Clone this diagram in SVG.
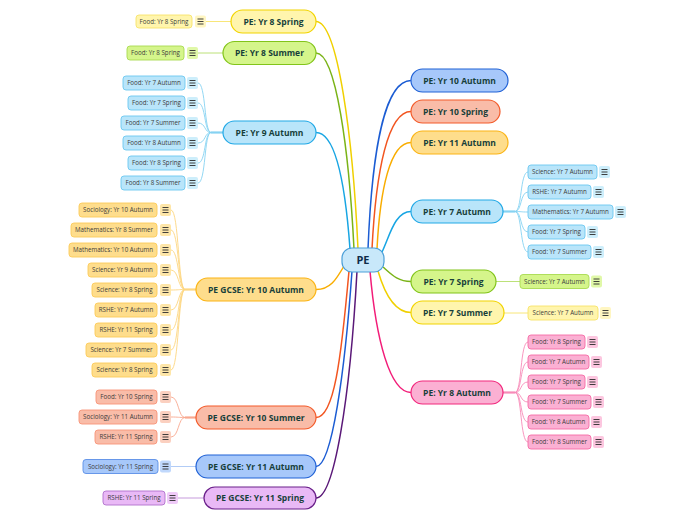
<svg xmlns="http://www.w3.org/2000/svg" xmlns:xlink="http://www.w3.org/1999/xlink" width="696" height="520" viewBox="0 0 696 520">
<style>
.t{font-family:'Open Sans','Liberation Sans',sans-serif;text-anchor:middle}
.mt{font-size:8.5px;font-weight:bold;fill:#173f3a}
.st{font-size:6.2px;fill:#3b3b3b}
.ct{font-size:11px;font-weight:bold;fill:#0f2c4a}
.m{stroke-width:1.2}
.s{stroke-width:0.9}
.c path,.c line{fill:none}
.mc{stroke-width:1.5}
.sc{stroke-width:0.9}
.jc{stroke-width:2.2}
.y .m{fill:#fff5ad;stroke:#f2d400}.y .s{fill:#fff5ad;stroke:#f7e36a}.y .i{fill:#fff6c2}
.g .m{fill:#d5f58b;stroke:#82c41a}.g .s{fill:#d5f58b;stroke:#a8da50}.g .i{fill:#e0f8a8}
.lb .m{fill:#b9e5fa;stroke:#22a9e6}.lb .s{fill:#b9e5fa;stroke:#6cc7f0}.lb .i{fill:#cdeefb}
.o .m{fill:#fedd8c;stroke:#fbb415}.o .s{fill:#fedd8c;stroke:#fccb5a}.o .i{fill:#fee6a8}
.sa .m{fill:#f9bca8;stroke:#f35b2a}.sa .s{fill:#f9bca8;stroke:#f79478}.sa .i{fill:#fbd0c0}
.b .m{fill:#a7c8fa;stroke:#2162d6}.b .s{fill:#a7c8fa;stroke:#5a8ee6}.b .i{fill:#c0d8fc}
.p .m{fill:#fbb0d3;stroke:#f2287d}.p .s{fill:#fbb0d3;stroke:#f56ba5}.p .i{fill:#fcc6df}
.pu .m{fill:#e9b9f6;stroke:#6a208a}.pu .s{fill:#e9b9f6;stroke:#b070cc}.pu .i{fill:#efcaf8}
.ky{stroke:#f0d000}.kg{stroke:#7ab317}.klb{stroke:#17a5e3}.ko{stroke:#f9ad00}.ksa{stroke:#f25520}.kb{stroke:#1b5cd3}.kp{stroke:#f21c78}.kpu{stroke:#5a1878}
.ly{stroke:#f7e36a}.lg{stroke:#b4de6a}.llb{stroke:#86d2f2}.lo{stroke:#fdd680}.lsa{stroke:#f8a890}.lb2{stroke:#a9c6f5}.lp{stroke:#f78ab8}.lpu{stroke:#c090d8}
</style>
<defs>
<g id="ico"><rect width="11" height="12" rx="2"/><path d="M2.5,3.5h6M2.5,6h6M2.5,8.5h6" fill="none" stroke="#2b2b2b" stroke-width="0.9"/></g>
</defs>
<rect width="696" height="520" fill="#ffffff"/>

<g id="connectors" class="c">
<!-- main -->
<path class="mc klb" d="M350,249 C345,180 335,132.5 316,132.5"/>
<path class="mc kg" d="M354,249 C349,150 336,53 316,53"/>
<path class="mc ky" d="M358,249 C353,140 338,21.5 316,21.5"/>
<path class="mc kb" d="M368,249 C372,150 385,80.5 411,80.5"/>
<path class="mc ksa" d="M372,249 C376,170 388,111.5 411,111.5"/>
<path class="mc ko" d="M377,249 C380,190 390,142.5 411,142.5"/>
<path class="mc klb" d="M382,252 C390,235 395,211.5 411,211.5"/>
<path class="mc kg" d="M383,267 C392,275 398,281.5 411,281.5"/>
<path class="mc ky" d="M378,271 C385,295 395,312.5 411,312.5"/>
<path class="mc kp" d="M370,271 C376,340 390,392.5 411,392.5"/>
<path class="mc ko" d="M344,266 C336,280 330,289.5 316,289.5"/>
<path class="mc ksa" d="M349,271 C341,360 334,417.5 316,417.5"/>
<path class="mc kb" d="M352,271 C345,370 332,466.5 316,466.5"/>
<path class="mc kpu" d="M357,271 C350,400 334,498 316,498"/>
<!-- single sub lines -->
<line class="sc ly" x1="206" y1="21.5" x2="231" y2="21.5"/>
<line class="sc lg" x1="198" y1="53" x2="223" y2="53"/>
<line class="sc lb2" x1="171" y1="466.5" x2="196" y2="466.5"/>
<line class="sc lpu" x1="178" y1="498" x2="204" y2="498"/>
<line class="sc lg" x1="496" y1="281.5" x2="520" y2="281.5"/>
<line class="sc ly" x1="504" y1="313" x2="528" y2="313"/>
<!-- yr9 autumn -->
<line class="jc llb" x1="211" y1="132.5" x2="223" y2="132.5"/>
<path class="sc llb" d="M211,132.5 C204,132.5 206,83 198,83 M211,132.5 C204,132.5 206,103 198,103 M211,132.5 C204,132.5 206,123 198,123 M211,132.5 C204,132.5 206,143 198,143 M211,132.5 C204,132.5 206,163 198,163 M211,132.5 C204,132.5 206,183 198,183"/>
<!-- gcse yr10 autumn -->
<line class="jc lo" x1="185" y1="289.5" x2="196" y2="289.5"/>
<path class="sc lo" d="M185,289.5 C178,289.5 179,210 171,210 M185,289.5 C178,289.5 179,230 171,230 M185,289.5 C178,289.5 179,250 171,250 M185,289.5 C178,289.5 179,270 171,270 M185,289.5 C178,289.5 179,290 171,290 M185,289.5 C178,289.5 179,310 171,310 M185,289.5 C178,289.5 179,330 171,330 M185,289.5 C178,289.5 179,350 171,350 M185,289.5 C178,289.5 179,370 171,370"/>
<!-- gcse yr10 summer -->
<line class="jc lsa" x1="185" y1="417.5" x2="196" y2="417.5"/>
<path class="sc lsa" d="M185,417.5 C178,417.5 179,397 171,397 M185,417.5 C178,417.5 179,417 171,417 M185,417.5 C178,417.5 179,437 171,437"/>
<!-- yr7 autumn -->
<line class="jc llb" x1="503" y1="211.5" x2="515" y2="211.5"/>
<path class="sc llb" d="M515,211.5 C522,211.5 520,172 528,172 M515,211.5 C522,211.5 520,192 528,192 M515,211.5 C522,211.5 520,212 528,212 M515,211.5 C522,211.5 520,232 528,232 M515,211.5 C522,211.5 520,252 528,252"/>
<!-- yr8 autumn -->
<line class="jc lp" x1="503" y1="392.5" x2="515" y2="392.5"/>
<path class="sc lp" d="M515,392.5 C522,392.5 520,342 528,342 M515,392.5 C522,392.5 520,362 528,362 M515,392.5 C522,392.5 520,382 528,382 M515,392.5 C522,392.5 520,402 528,402 M515,392.5 C522,392.5 520,422 528,422 M515,392.5 C522,392.5 520,442 528,442"/>
</g>

<!-- center -->
<g id="pe">
<rect x="342" y="248" width="42" height="24" rx="10" fill="#c8e8fa" stroke="#4a9fd8" stroke-width="1.2"/>
<text class="t ct" x="363" y="264">PE</text>
</g>

<!-- left main nodes -->
<g id="yr8-spring" class="y"><rect class="m" x="231" y="10" width="85" height="23" rx="11.5"/><text class="t mt" x="273.5" y="24.5">PE: Yr 8 Spring</text></g>
<g id="yr8-spring-1" class="y"><rect class="s" x="136" y="15" width="56" height="13" rx="3"/><text class="t st" x="164" y="23.7">Food: Yr 8 Spring</text><use href="#ico" x="195" y="15.5" class="i"/></g>

<g id="yr8-summer" class="g"><rect class="m" x="223" y="41.5" width="93" height="23" rx="11.5"/><text class="t mt" x="269.5" y="56">PE: Yr 8 Summer</text></g>
<g id="yr8-summer-1" class="g"><rect class="s" x="127" y="46" width="57" height="14" rx="3"/><text class="t st" x="155.5" y="55.2">Food: Yr 8 Spring</text><use href="#ico" x="187" y="47" class="i"/></g>

<g id="yr9-autumn" class="lb"><rect class="m" x="223" y="121" width="93" height="23" rx="11.5"/><text class="t mt" x="269.5" y="135.5">PE: Yr 9 Autumn</text></g>
<g id="yr9-autumn-1" class="lb"><rect class="s" x="123" y="76" width="62" height="14" rx="3"/><text class="t st" x="154" y="85.2">Food: Yr 7 Autumn</text><use href="#ico" x="187" y="77" class="i"/></g>
<g id="yr9-autumn-2" class="lb"><rect class="s" x="128" y="96" width="57" height="14" rx="3"/><text class="t st" x="156.5" y="105.2">Food: Yr 7 Spring</text><use href="#ico" x="187" y="97" class="i"/></g>
<g id="yr9-autumn-3" class="lb"><rect class="s" x="121" y="116" width="64" height="14" rx="3"/><text class="t st" x="153" y="125.2">Food: Yr 7 Summer</text><use href="#ico" x="187" y="117" class="i"/></g>
<g id="yr9-autumn-4" class="lb"><rect class="s" x="123" y="136" width="62" height="14" rx="3"/><text class="t st" x="154" y="145.2">Food: Yr 8 Autumn</text><use href="#ico" x="187" y="137" class="i"/></g>
<g id="yr9-autumn-5" class="lb"><rect class="s" x="128" y="156" width="57" height="14" rx="3"/><text class="t st" x="156.5" y="165.2">Food: Yr 8 Spring</text><use href="#ico" x="187" y="157" class="i"/></g>
<g id="yr9-autumn-6" class="lb"><rect class="s" x="121" y="176" width="64" height="14" rx="3"/><text class="t st" x="153" y="185.2">Food: Yr 8 Summer</text><use href="#ico" x="187" y="177" class="i"/></g>

<g id="gcse-yr10-autumn" class="o"><rect class="m" x="196" y="278" width="120" height="23" rx="11.5"/><text class="t mt" x="256" y="292.5">PE GCSE: Yr 10 Autumn</text></g>
<g id="gcse-yr10-autumn-1" class="o"><rect class="s" x="79" y="203" width="78" height="14" rx="3"/><text class="t st" x="118" y="212.2">Sociology: Yr 10 Autumn</text><use href="#ico" x="160" y="204" class="i"/></g>
<g id="gcse-yr10-autumn-2" class="o"><rect class="s" x="71" y="223" width="86" height="14" rx="3"/><text class="t st" x="114" y="232.2">Mathematics: Yr 8 Summer</text><use href="#ico" x="160" y="224" class="i"/></g>
<g id="gcse-yr10-autumn-3" class="o"><rect class="s" x="69" y="243" width="88" height="14" rx="3"/><text class="t st" x="113" y="252.2">Mathematics: Yr 10 Autumn</text><use href="#ico" x="160" y="244" class="i"/></g>
<g id="gcse-yr10-autumn-4" class="o"><rect class="s" x="88" y="263" width="69" height="14" rx="3"/><text class="t st" x="122.5" y="272.2">Science: Yr 9 Autumn</text><use href="#ico" x="160" y="264" class="i"/></g>
<g id="gcse-yr10-autumn-5" class="o"><rect class="s" x="92" y="283" width="65" height="14" rx="3"/><text class="t st" x="124.5" y="292.2">Science: Yr 8 Spring</text><use href="#ico" x="160" y="284" class="i"/></g>
<g id="gcse-yr10-autumn-6" class="o"><rect class="s" x="95" y="303" width="62" height="14" rx="3"/><text class="t st" x="126" y="312.2">RSHE: Yr 7 Autumn</text><use href="#ico" x="160" y="304" class="i"/></g>
<g id="gcse-yr10-autumn-7" class="o"><rect class="s" x="95" y="323" width="62" height="14" rx="3"/><text class="t st" x="126" y="332.2">RSHE: Yr 11 Spring</text><use href="#ico" x="160" y="324" class="i"/></g>
<g id="gcse-yr10-autumn-8" class="o"><rect class="s" x="86" y="343" width="71" height="14" rx="3"/><text class="t st" x="121.5" y="352.2">Science: Yr 7 Summer</text><use href="#ico" x="160" y="344" class="i"/></g>
<g id="gcse-yr10-autumn-9" class="o"><rect class="s" x="92" y="363" width="65" height="14" rx="3"/><text class="t st" x="124.5" y="372.2">Science: Yr 8 Spring</text><use href="#ico" x="160" y="364" class="i"/></g>

<g id="gcse-yr10-summer" class="sa"><rect class="m" x="196" y="406" width="120" height="23" rx="11.5"/><text class="t mt" x="256" y="420.5">PE GCSE: Yr 10 Summer</text></g>
<g id="gcse-yr10-summer-1" class="sa"><rect class="s" x="96" y="390" width="61" height="14" rx="3"/><text class="t st" x="126.5" y="399.2">Food: Yr 10 Spring</text><use href="#ico" x="160" y="391" class="i"/></g>
<g id="gcse-yr10-summer-2" class="sa"><rect class="s" x="79" y="410" width="78" height="14" rx="3"/><text class="t st" x="118" y="419.2">Sociology: Yr 11 Autumn</text><use href="#ico" x="160" y="411" class="i"/></g>
<g id="gcse-yr10-summer-3" class="sa"><rect class="s" x="95" y="430" width="62" height="14" rx="3"/><text class="t st" x="126" y="439.2">RSHE: Yr 11 Spring</text><use href="#ico" x="160" y="431" class="i"/></g>

<g id="gcse-yr11-autumn" class="b"><rect class="m" x="196" y="455" width="120" height="23" rx="11.5"/><text class="t mt" x="256" y="469.5">PE GCSE: Yr 11 Autumn</text></g>
<g id="gcse-yr11-autumn-1" class="b"><rect class="s" x="83" y="459.5" width="75" height="14" rx="3"/><text class="t st" x="120.5" y="468.7">Sociology: Yr 11 Spring</text><use href="#ico" x="160" y="460.5" class="i"/></g>

<g id="gcse-yr11-spring" class="pu"><rect class="m" x="204" y="487" width="112" height="22" rx="11"/><text class="t mt" x="260" y="501">PE GCSE: Yr 11 Spring</text></g>
<g id="gcse-yr11-spring-1" class="pu"><rect class="s" x="103" y="491" width="62" height="14" rx="3"/><text class="t st" x="134" y="500.2">RSHE: Yr 11 Spring</text><use href="#ico" x="167" y="492" class="i"/></g>

<!-- right main nodes -->
<g id="yr10-autumn" class="b"><rect class="m" x="411" y="69" width="97" height="23" rx="11.5"/><text class="t mt" x="459.5" y="83.5">PE: Yr 10 Autumn</text></g>
<g id="yr10-spring" class="sa"><rect class="m" x="411" y="100" width="89" height="23" rx="11.5"/><text class="t mt" x="455.5" y="114.5">PE: Yr 10 Spring</text></g>
<g id="yr11-autumn" class="o"><rect class="m" x="411" y="131" width="97" height="23" rx="11.5"/><text class="t mt" x="459.5" y="145.5">PE: Yr 11 Autumn</text></g>

<g id="yr7-autumn" class="lb"><rect class="m" x="411" y="200" width="92" height="23" rx="11.5"/><text class="t mt" x="457" y="214.5">PE: Yr 7 Autumn</text></g>
<g id="yr7-autumn-1" class="lb"><rect class="s" x="528" y="165" width="69" height="14" rx="3"/><text class="t st" x="562.5" y="174.2">Science: Yr 7 Autumn</text><use href="#ico" x="599" y="166" class="i"/></g>
<g id="yr7-autumn-2" class="lb"><rect class="s" x="528" y="185" width="63" height="14" rx="3"/><text class="t st" x="559.5" y="194.2">RSHE: Yr 7 Autumn</text><use href="#ico" x="593" y="186" class="i"/></g>
<g id="yr7-autumn-3" class="lb"><rect class="s" x="528" y="205" width="85" height="14" rx="3"/><text class="t st" x="570.5" y="214.2">Mathematics: Yr 7 Autumn</text><use href="#ico" x="615" y="206" class="i"/></g>
<g id="yr7-autumn-4" class="lb"><rect class="s" x="528" y="225" width="57" height="14" rx="3"/><text class="t st" x="556.5" y="234.2">Food: Yr 7 Spring</text><use href="#ico" x="587" y="226" class="i"/></g>
<g id="yr7-autumn-5" class="lb"><rect class="s" x="528" y="245" width="63" height="14" rx="3"/><text class="t st" x="559.5" y="254.2">Food: Yr 7 Summer</text><use href="#ico" x="593" y="246" class="i"/></g>

<g id="yr7-spring" class="g"><rect class="m" x="411" y="270" width="85" height="23" rx="11.5"/><text class="t mt" x="453.5" y="284.5">PE: Yr 7 Spring</text></g>
<g id="yr7-spring-1" class="g"><rect class="s" x="520" y="274.5" width="69" height="14" rx="3"/><text class="t st" x="554.5" y="283.7">Science: Yr 7 Autumn</text><use href="#ico" x="591" y="275.5" class="i"/></g>

<g id="yr7-summer" class="y"><rect class="m" x="411" y="301" width="93" height="23" rx="11.5"/><text class="t mt" x="457.5" y="315.5">PE: Yr 7 Summer</text></g>
<g id="yr7-summer-1" class="y"><rect class="s" x="528" y="306" width="70" height="14" rx="3"/><text class="t st" x="563" y="315.2">Science: Yr 7 Autumn</text><use href="#ico" x="600" y="307" class="i"/></g>

<g id="yr8-autumn" class="p"><rect class="m" x="411" y="381" width="92" height="23" rx="11.5"/><text class="t mt" x="457" y="395.5">PE: Yr 8 Autumn</text></g>
<g id="yr8-autumn-1" class="p"><rect class="s" x="528" y="335" width="57" height="14" rx="3"/><text class="t st" x="556.5" y="344.2">Food: Yr 8 Spring</text><use href="#ico" x="587" y="336" class="i"/></g>
<g id="yr8-autumn-2" class="p"><rect class="s" x="528" y="355" width="61" height="14" rx="3"/><text class="t st" x="558.5" y="364.2">Food: Yr 7 Autumn</text><use href="#ico" x="591" y="356" class="i"/></g>
<g id="yr8-autumn-3" class="p"><rect class="s" x="528" y="375" width="57" height="14" rx="3"/><text class="t st" x="556.5" y="384.2">Food: Yr 7 Spring</text><use href="#ico" x="587" y="376" class="i"/></g>
<g id="yr8-autumn-4" class="p"><rect class="s" x="528" y="395" width="63" height="14" rx="3"/><text class="t st" x="559.5" y="404.2">Food: Yr 7 Summer</text><use href="#ico" x="593" y="396" class="i"/></g>
<g id="yr8-autumn-5" class="p"><rect class="s" x="528" y="415" width="61" height="14" rx="3"/><text class="t st" x="558.5" y="424.2">Food: Yr 8 Autumn</text><use href="#ico" x="591" y="416" class="i"/></g>
<g id="yr8-autumn-6" class="p"><rect class="s" x="528" y="435" width="63" height="14" rx="3"/><text class="t st" x="559.5" y="444.2">Food: Yr 8 Summer</text><use href="#ico" x="593" y="436" class="i"/></g>
</svg>
